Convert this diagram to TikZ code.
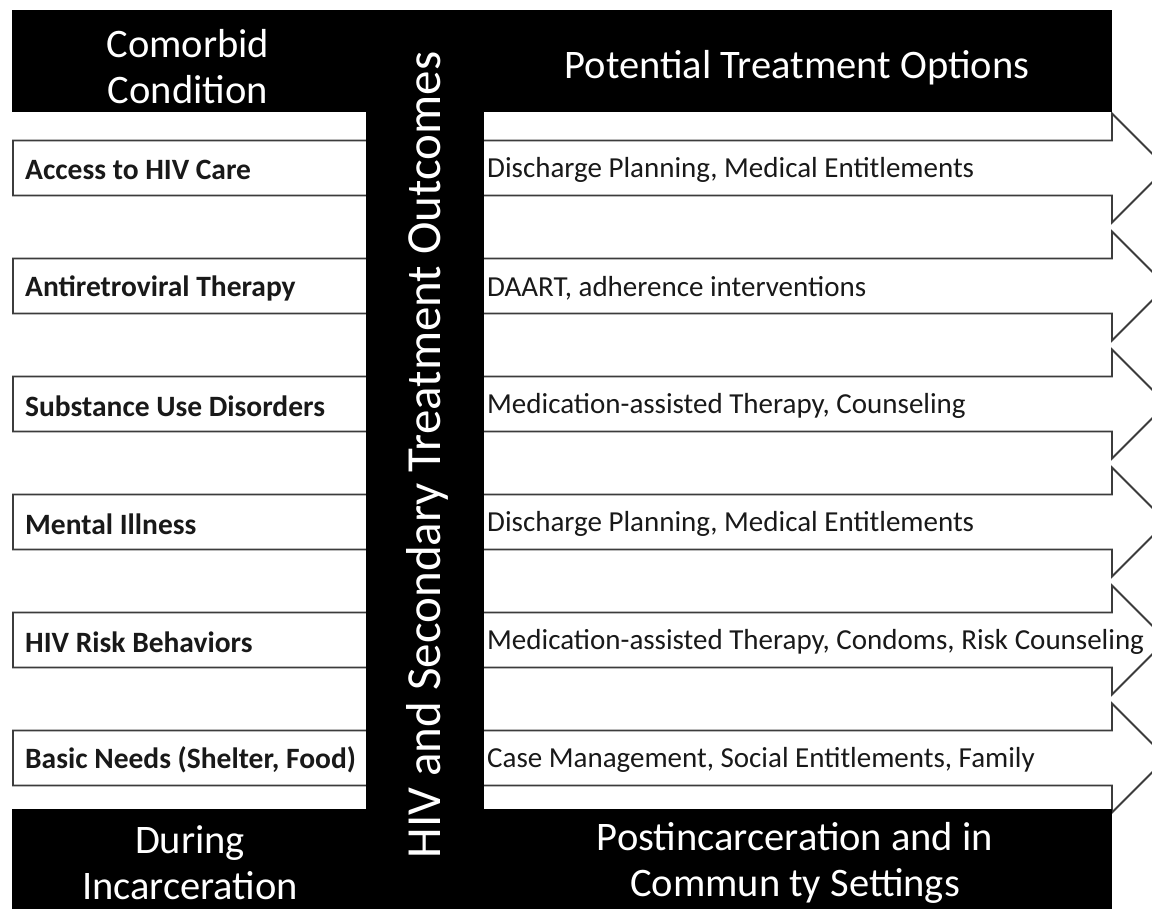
\documentclass[tikz,border=0pt]{standalone}
\usepackage{fontspec}
\setmainfont{Carlito}
\definecolor{edge}{HTML}{3C3C3C}
\tikzset{
  rowshape/.style={draw=edge, line width=1.8pt, fill=white, line join=miter},
  band/.style={fill=black},
  lefttext/.style={anchor=west, inner sep=0pt, font=\fontsize{29.5}{34}\selectfont\bfseries, text=black!90},
  righttext/.style={anchor=west, inner sep=0pt, font=\fontsize{29}{34}\selectfont, text=black!90},
  headtext/.style={align=center, inner sep=0pt, text=white, font=\fontsize{40.5}{46}\selectfont},
}
\begin{document}
\begin{tikzpicture}[x=1pt, y=-1pt]
\useasboundingbox (0,0) rectangle (1152,909);
\clip (0,0) rectangle (1152,909);

% rows: a long box that turns into an arrow on the right
\foreach \i/\l/\r in {
  0/{Access to HIV Care}/{Discharge Planning, Medical Entitlements},
  1/{Antiretroviral Therapy}/{DAART, adherence interventions},
  2/{Substance Use Disorders}/{Medication-assisted Therapy, Counseling},
  3/{Mental Illness}/{Discharge Planning, Medical Entitlements},
  4/{HIV Risk Behaviors}/{Medication-assisted Therapy, Condoms, Risk Counseling},
  5/{Basic Needs (Shelter, Food)}/{Case Management, Social Entitlements, Family}}{
  \pgfmathsetmacro{\yc}{168+118*\i}
  \draw[rowshape] (13,\yc-27.5) -- (1112,\yc-27.5) -- (1112,\yc-54.5)
      -- (1166.5,\yc) -- (1112,\yc+54.5) -- (1112,\yc+27.5) -- (13,\yc+27.5) -- cycle;
  \node[lefttext] (cond\i) at (25,\yc+2) {\l};
  \node[righttext] (opt\i) at (487,\yc+2) {\r};
}

% black frame: top band, central column, bottom band
\fill[band] (12,10) rectangle (1112,112);
\fill[band] (366,111) rectangle (484,810);
\fill[band] (12,809) rectangle (1112,915);

\node[headtext] (comorbid) at (188,67) {Comorbid\\Condition};
\node[headtext] (options) at (797,68) {Potential Treatment Options};
\node[headtext] (during) at (190,863) {During\\Incarceration};
\node[headtext] (post) at (795,863) {Postincarceration and in\\Commun ty Settings};
\node[headtext, rotate=90, font=\fontsize{49}{56}\selectfont] (outcomes) at (427,455)
  {HIV and Secondary Treatment Outcomes};
\end{tikzpicture}
\end{document}
